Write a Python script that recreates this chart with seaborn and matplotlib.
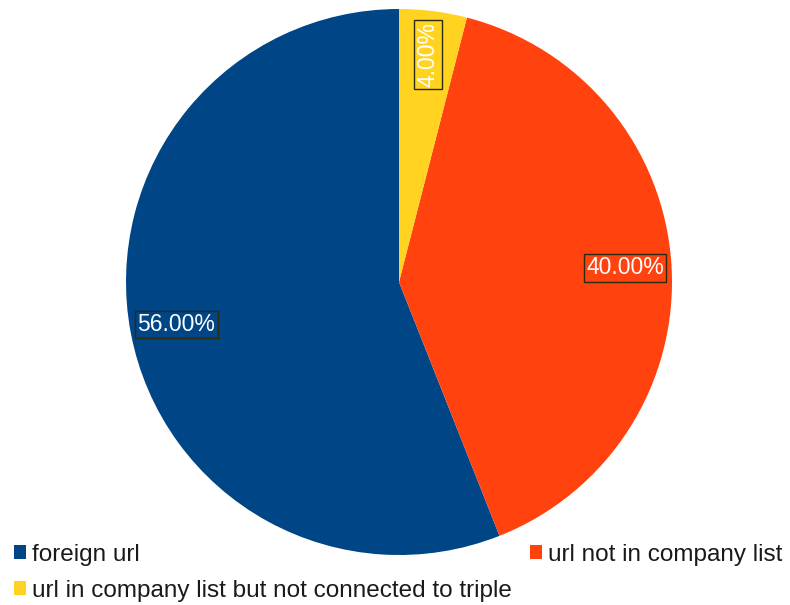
import numpy as np
import matplotlib
matplotlib.use("Agg")
import matplotlib.pyplot as plt
import seaborn as sns

categories = ["foreign url", "url not in company list",
              "url in company list but not connected to triple"]
shares = [56.0, 40.0, 4.0]
colors = ["#004586", "#ff420e", "#ffd320"]

sns.set_theme(style="white")
plt.rcParams["font.family"] = ["Liberation Sans", "DejaVu Sans"]

fig = plt.figure(figsize=(7.9, 6.05), dpi=100)
fig.patch.set_facecolor("white")
# square axes holding the unit-radius pie
ax = fig.add_axes([126 / 790, 50 / 605, 546 / 790, 546 / 605])
ax.axis("off")

wedges, _ = ax.pie(shares, colors=colors, startangle=90, counterclock=True,
                   radius=1.0, center=(0, 0), frame=False,
                   wedgeprops=dict(linewidth=0))
ax.set_xlim(-1, 1)
ax.set_ylim(-1, 1)

box = dict(boxstyle="square,pad=0.1", facecolor="none",
           edgecolor="#2b2b10", linewidth=1.0)
for w, v in zip(wedges, shares):
    mid = np.deg2rad((w.theta1 + w.theta2) / 2)
    small = v < 10
    r = 0.84 if small else 0.83
    ax.text(r * np.cos(mid), r * np.sin(mid), f"{v:.2f}%",
            ha="center", va="center", color="white", fontsize=16.5,
            rotation=90 if small else 0, bbox=box)

order = [0, 2, 1]
leg = fig.legend([wedges[i] for i in order], [categories[i] for i in order],
                 loc="lower left", bbox_to_anchor=(14 / 790, 3 / 605), ncol=2,
                 frameon=False, fontsize=17.5, handlelength=0.5,
                 handleheight=0.5, handletextpad=0.25, columnspacing=0.74,
                 labelspacing=0.58, borderpad=0, borderaxespad=0)
for t in leg.get_texts():
    t.set_color("#1a1a1a")

fig.savefig("out.png", dpi=100, facecolor="white")
